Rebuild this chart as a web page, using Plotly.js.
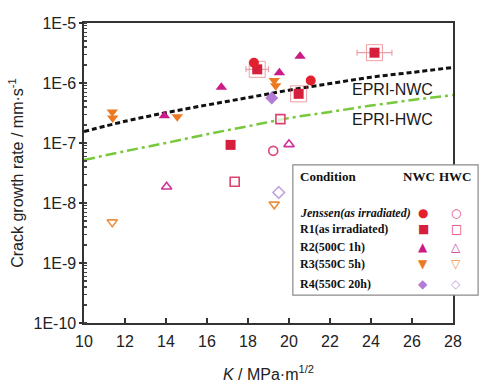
<!DOCTYPE html>
<html>
<head>
<meta charset="utf-8">
<script src="https://cdn.plot.ly/plotly-3.0.1.min.js"></script>
<style>html,body{margin:0;padding:0;background:#fff;}#chart{width:491px;height:388px;}</style>
</head>
<body>
<div id="chart"></div>
<script>
// ---- data ----
const epriK       = [10, 12, 14, 16, 18, 20, 22, 24, 26, 28];
const epriNWC     = [1.55e-7, 2.3e-7, 3.2e-7, 4.3e-7, 5.7e-7, 7.6e-7, 9.8e-7, 1.25e-6, 1.5e-6, 1.82e-6];
const epriHWC     = [5.2e-8, 7.3e-8, 1.0e-7, 1.4e-7, 1.9e-7, 2.6e-7, 3.3e-7, 4.2e-7, 5.2e-7, 6.3e-7];

const jenssenNWC_K = [18.29, 21.06];
const jenssenNWC_R = [2.18e-6, 1.1e-6];
const jenssenHWC_K = [19.23];
const jenssenHWC_R = [7.4e-8];

const r1NWC_K   = [17.15, 18.45, 20.47, 24.17];
const r1NWC_R   = [9.3e-8, 1.69e-6, 6.6e-7, 3.2e-6];
const r1NWC_errK = [0, 0.55, 0, 0.85];
const r1NWC_box = [false, true, true, true];
const r1HWC_K   = [17.35, 19.58];
const r1HWC_R   = [2.26e-8, 2.5e-7];

const r2NWC_K = [13.92, 16.7, 19.53, 20.54];
const r2NWC_R = [2.85e-7, 8.5e-7, 1.48e-6, 2.8e-6];
const r2HWC_K = [14.03, 20.0];
const r2HWC_R = [1.87e-8, 9.5e-8];

const r3NWC_K = [11.38, 11.4, 14.55, 19.28, 19.35];
const r3NWC_R = [3.3e-7, 2.6e-7, 2.75e-7, 1.1e-6, 9.0e-7];
const r3HWC_K = [11.38, 19.28];
const r3HWC_R = [4.8e-9, 9.5e-9];

const r4NWC_K = [19.16];
const r4NWC_R = [5.6e-7];
const r4HWC_K = [19.5];
const r4HWC_R = [1.5e-8];

const yTickVals  = [1e-10, 1e-9, 1e-8, 1e-7, 1e-6, 1e-5];
const yTickText  = ['1E-10', '1E-9', '1E-8', '1E-7', '1E-6', '1E-5'];
const xTickVals  = [10, 12, 14, 16, 18, 20, 22, 24, 26, 28];

const legendRows = ['<i>Jenssen(as irradiated)</i>', 'R1(as irradiated)', 'R2(500C 1h)', 'R3(550C 5h)', 'R4(550C 20h)'];
const legendNWC  = ['\u25CF', '\u25A0', '\u25B2', '\u25BC', '\u25C6'];
const legendHWC  = ['\u25CB', '\u25A1', '\u25B3', '\u25BD', '\u25C7'];

// ---- styles ----
const fillCol = ['#e3202e', '#d61f3c', '#cc1a87', '#ec7a22', '#b27bd6'];
const openCol = ['#e0457a', '#e0406e', '#d0309a', '#eb9040', '#c4a6de'];

function filled(k, r, sym, i) {
  return {x: k, y: r, type: 'scatter', mode: 'markers', showlegend: false, cliponaxis: false,
    marker: {symbol: sym, size: 10, color: fillCol[i], line: {width: 0}}};
}
function open(k, r, sym, i) {
  return {x: k, y: r, type: 'scatter', mode: 'markers', showlegend: false, cliponaxis: false,
    marker: {symbol: sym, size: 9, color: 'rgba(255,255,255,0.7)', line: {width: 1.6, color: openCol[i]}}};
}

const boxK = r1NWC_K.filter((v, i) => r1NWC_box[i]);
const boxR = r1NWC_R.filter((v, i) => r1NWC_box[i]);

const traces = [
  {x: epriK, y: epriNWC, type: 'scatter', mode: 'lines', showlegend: false,
   line: {color: '#111', width: 3, dash: '5px,3px', shape: 'spline'}},
  {x: epriK, y: epriHWC, type: 'scatter', mode: 'lines', showlegend: false,
   line: {color: '#78c83c', width: 2.5, dash: '11px,4px,3px,4px', shape: 'spline'}},
  {x: boxK, y: boxR, type: 'scatter', mode: 'markers', showlegend: false,
   marker: {symbol: 'square-open', size: 16, color: 'rgba(225,80,90,0.55)', line: {width: 1}}},
  Object.assign(filled(r1NWC_K, r1NWC_R, 'square', 1),
    {error_x: {type: 'data', array: r1NWC_errK, visible: true, color: '#eaa0a6', thickness: 1.2, width: 3}}),
  filled(jenssenNWC_K, jenssenNWC_R, 'circle', 0),
  filled(r2NWC_K, r2NWC_R, 'triangle-up', 2),
  filled(r3NWC_K, r3NWC_R, 'triangle-down', 3),
  filled(r4NWC_K, r4NWC_R, 'diamond', 4),
  open(jenssenHWC_K, jenssenHWC_R, 'circle', 0),
  open(r1HWC_K, r1HWC_R, 'square', 1),
  open(r2HWC_K, r2HWC_R, 'triangle-up', 2),
  open(r3HWC_K, r3HWC_R, 'triangle-down', 3),
  open(r4HWC_K, r4HWC_R, 'diamond', 4)
];

// legend (table-like box) built from text annotations
const serif = 'Liberation Serif, Times New Roman, serif';
const sans = 'Liberation Sans, Arial, sans-serif';
function ann(x, y, text, font, xanchor) {
  return {xref: 'paper', yref: 'paper', x: x, y: y, text: text, showarrow: false,
    xanchor: xanchor || 'center', yanchor: 'middle', font: font};
}
const annotations = [
  ann(0.837, 0.777, 'EPRI-NWC', {family: sans, size: 16, color: '#1a1a1a'}),
  ann(0.837, 0.677, 'EPRI-HWC', {family: sans, size: 16, color: '#1a1a1a'}),
  ann(0.581, 0.49, '<b>Condition</b>', {family: serif, size: 13, color: '#111'}, 'left'),
  ann(0.907, 0.49, '<b>NWC</b>', {family: serif, size: 13, color: '#111'}),
  ann(1.008, 0.49, '<b>HWC</b>', {family: serif, size: 13, color: '#111'})
];
const rowY = [0.367, 0.313, 0.255, 0.197, 0.13];
legendRows.forEach((t, i) => {
  annotations.push(ann(0.581, rowY[i], '<b>' + t + '</b>', {family: serif, size: 12, color: '#111'}, 'left'));
  annotations.push(ann(0.92, rowY[i], legendNWC[i], {family: 'DejaVu Sans', size: 12, color: fillCol[i]}));
  annotations.push(ann(1.009, rowY[i], legendHWC[i], {family: 'DejaVu Sans', size: 12, color: openCol[i]}));
});

const layout = {
  width: 491, height: 388,
  margin: {l: 84, r: 38, t: 23, b: 65},
  paper_bgcolor: '#fff', plot_bgcolor: '#fff',
  font: {family: sans, size: 16, color: '#222'},
  showlegend: false,
  xaxis: {
    range: [10, 28], tickvals: xTickVals, ticks: 'inside', ticklen: 5, tickwidth: 1.3, tickcolor: '#333',
    showline: true, linecolor: '#333', linewidth: 1.6, mirror: true, showgrid: false, zeroline: false,
    ticklabelstandoff: 3,
    tickfont: {size: 16}, title: {text: '<i>K</i> / MPa·m<sup>1/2</sup>', font: {size: 16}, standoff: 20}
  },
  yaxis: {
    type: 'log', range: [-10, -5], tickvals: yTickVals, ticktext: yTickText,
    ticks: 'outside', ticklen: 3, tickwidth: 1.3, tickcolor: '#333',
    minor: {ticks: 'inside', ticklen: 3, tickcolor: '#444', dtick: 'D1', showgrid: false},
    showline: true, linecolor: '#333', linewidth: 1.6, mirror: true, showgrid: false, zeroline: false,
    tickfont: {size: 16}, title: {text: 'Crack growth rate / mm·s<sup>-1</sup>', font: {size: 16}, standoff: 6}
  },
  shapes: [
    {type: 'rect', xref: 'paper', yref: 'paper', x0: 0.566, x1: 1.068, y0: 0.093, y1: 0.527,
     line: {color: '#8a8a8a', width: 1.2}, fillcolor: '#fff', layer: 'above'}
  ],
  annotations: annotations
};

Plotly.newPlot('chart', traces, layout, {displayModeBar: false, staticPlot: true});
</script>
</body>
</html>
